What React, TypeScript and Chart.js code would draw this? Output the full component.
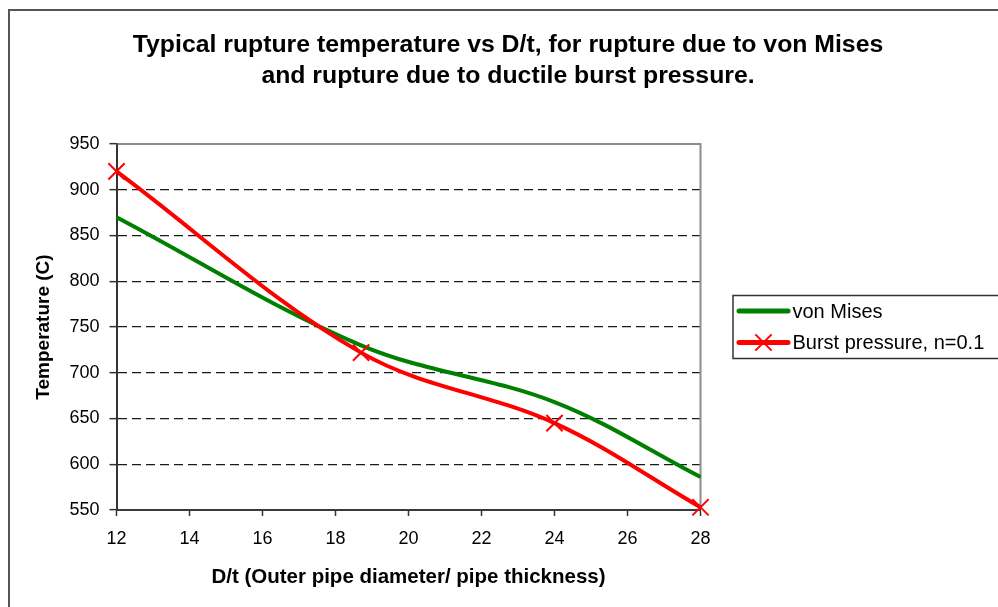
import React, { useEffect, useRef } from 'react';
import { Chart, registerables, layouts } from 'chart.js';

Chart.register(...registerables);

// ---------- data ----------
const TITLE_LINES = [
  'Typical rupture temperature vs D/t, for rupture due to von Mises',
  'and rupture due to ductile burst pressure.',
];
const X_TITLE = 'D/t (Outer pipe diameter/ pipe thickness)';
const Y_TITLE = 'Temperature (C)';
const SERIES_LABELS = ['von Mises', 'Burst pressure, n=0.1'];

const dtValues = [12, 18.7, 24, 28];
const vonMises = [870, 730, 668, 586];
const burstPressure = [920, 722, 645, 553];

const X_MIN = 12;
const X_MAX = 28;
const X_STEP = 2;
const Y_MIN = 550;
const Y_MAX = 950;
const Y_STEP = 50;

// ---------- styling ----------
const FONT = '"Liberation Sans", Arial, Helvetica, sans-serif';
const GREEN = '#008000';
const RED = '#ff0000';
const LEGEND_AREA_W = 297.5;

function drawLegend(chart: any, box: any) {
  const ctx = chart.ctx as CanvasRenderingContext2D;
  const cy = (box.top + box.bottom) / 2;
  const x0 = box.left + 32.5;
  ctx.save();
  ctx.fillStyle = '#ffffff';
  ctx.fillRect(x0, cy - 31.5, 400, 63);
  ctx.strokeStyle = '#333333';
  ctx.lineWidth = 1.5;
  ctx.strokeRect(x0, cy - 31.5, 400, 63);
  chart.data.datasets.forEach((ds: any, i: number) => {
    const y = cy - 16 + i * 31.5;
    ctx.strokeStyle = ds.borderColor;
    ctx.lineWidth = 5;
    ctx.lineCap = 'round';
    ctx.beginPath();
    ctx.moveTo(x0 + 6, y);
    ctx.lineTo(x0 + 55, y);
    ctx.stroke();
    if (ds.pointRadius > 0) {
      const mx = x0 + 30.5;
      const h = ds.pointRadius * Math.SQRT1_2;
      ctx.lineCap = 'butt';
      ctx.lineWidth = ds.pointBorderWidth;
      ctx.strokeStyle = ds.pointBorderColor;
      ctx.beginPath();
      ctx.moveTo(mx - h, y - h);
      ctx.lineTo(mx + h, y + h);
      ctx.moveTo(mx - h, y + h);
      ctx.lineTo(mx + h, y - h);
      ctx.stroke();
    }
    ctx.fillStyle = '#000000';
    ctx.font = `20px ${FONT}`;
    ctx.textBaseline = 'middle';
    ctx.textAlign = 'left';
    ctx.fillText(ds.label, x0 + 59.5, y + 1);
  });
  ctx.restore();
}

const sideLegendPlugin: any = {
  id: 'sideLegend',
  start(chart: any) {
    const box: any = {
      position: 'right',
      weight: 1000,
      fullSize: false,
      options: {},
      left: 0,
      top: 0,
      right: 0,
      bottom: 0,
      width: 0,
      height: 0,
      update(_maxWidth: number, maxHeight: number) {
        this.width = LEGEND_AREA_W;
        this.height = maxHeight;
      },
      isHorizontal() {
        return false;
      },
      draw() {
        drawLegend(chart, this);
      },
    };
    layouts.addBox(chart, box);
    chart.$sideLegend = box;
  },
  stop(chart: any) {
    if (chart.$sideLegend) layouts.removeBox(chart, chart.$sideLegend);
    delete chart.$sideLegend;
  },
};

const framePlugin: any = {
  id: 'frames',
  beforeDraw(chart: any) {
    const ctx = chart.ctx as CanvasRenderingContext2D;
    ctx.save();
    ctx.fillStyle = '#ffffff';
    ctx.fillRect(0, 0, chart.width, chart.height);
    ctx.strokeStyle = '#555555';
    ctx.lineWidth = 2;
    ctx.strokeRect(9, 10, chart.width + 50, chart.height + 50);
    ctx.restore();
  },
  beforeDatasetsDraw(chart: any) {
    const ctx = chart.ctx as CanvasRenderingContext2D;
    const { left, right, top, bottom } = chart.chartArea;
    ctx.save();
    ctx.strokeStyle = '#8c8c8c';
    ctx.lineWidth = 2;
    ctx.beginPath();
    ctx.moveTo(left + 1, top);
    ctx.lineTo(right, top);
    ctx.lineTo(right, bottom - 1);
    ctx.stroke();
    ctx.restore();
  },
};

export default function App() {
  const canvasRef = useRef<HTMLCanvasElement>(null);

  useEffect(() => {
    if (!canvasRef.current) return;
    const chart = new Chart(canvasRef.current, {
      type: 'line',
      data: {
        datasets: [
          {
            label: SERIES_LABELS[0],
            data: dtValues.map((x, i) => ({ x, y: vonMises[i] })),
            borderColor: GREEN,
            backgroundColor: GREEN,
            borderWidth: 4,
            pointRadius: 0,
            tension: 0.35,
            order: 1,
            clip: false,
          } as any,
          {
            label: SERIES_LABELS[1],
            data: dtValues.map((x, i) => ({ x, y: burstPressure[i] })),
            borderColor: RED,
            backgroundColor: RED,
            borderWidth: 4,
            pointStyle: 'crossRot',
            pointRadius: 11.5,
            pointBorderWidth: 2,
            pointBorderColor: RED,
            pointBackgroundColor: RED,
            tension: 0.35,
            order: 0,
            clip: false,
          } as any,
        ],
      },
      options: {
        animation: false,
        responsive: true,
        maintainAspectRatio: false,
        events: [],
        layout: { padding: { left: 18, right: 0, top: 0, bottom: 0 } },
        plugins: {
          legend: { display: false },
          tooltip: { enabled: false },
          title: {
            display: true,
            text: TITLE_LINES,
            color: '#000000',
            font: { family: FONT, size: 24.8, weight: 'bold', lineHeight: 1.25 },
            padding: { top: 29.5, bottom: 52.5 },
          },
        },
        scales: {
          x: {
            type: 'linear',
            min: X_MIN,
            max: X_MAX,
            ticks: {
              stepSize: X_STEP,
              color: '#000000',
              font: { family: FONT, size: 18 },
              padding: 12,
            },
            grid: {
              drawOnChartArea: false,
              drawTicks: true,
              tickLength: 6,
              tickColor: '#333333',
              tickWidth: 1.5,
            },
            border: { display: true, color: '#3a3a3a', width: 2 },
            title: {
              display: true,
              text: X_TITLE,
              color: '#000000',
              font: { family: FONT, size: 20.5, weight: 'bold' },
              padding: { top: 0, bottom: 17.7 },
            },
            afterFit: (scale: any) => {
              scale.height = 97;
            },
          },
          y: {
            type: 'linear',
            min: Y_MIN,
            max: Y_MAX,
            ticks: {
              stepSize: Y_STEP,
              color: '#000000',
              font: { family: FONT, size: 18 },
              padding: 10,
            },
            grid: {
              color: (ctx: any) =>
                ctx.tick && (ctx.tick.value === Y_MIN || ctx.tick.value === Y_MAX)
                  ? 'rgba(0,0,0,0)'
                  : '#1a1a1a',
              lineWidth: 1.3,
              drawTicks: true,
              tickLength: 7,
              tickColor: '#333333',
              tickWidth: 1.5,
              tickBorderDash: [],
            },
            border: { display: true, color: '#333333', width: 2, dash: [9, 5] },
            title: {
              display: true,
              text: Y_TITLE,
              color: '#000000',
              font: { family: FONT, size: 19, weight: 'bold' },
              padding: { top: 14.7, bottom: 0 },
            },
            afterFit: (scale: any) => {
              scale.width = 98.5;
            },
          },
        },
      } as any,
      plugins: [framePlugin, sideLegendPlugin],
    });
    return () => {
      chart.destroy();
    };
  }, []);

  return (
    <div style={{ position: 'fixed', left: 0, top: 0, width: 998, height: 607, background: '#ffffff' }}>
      <canvas ref={canvasRef} />
    </div>
  );
}
